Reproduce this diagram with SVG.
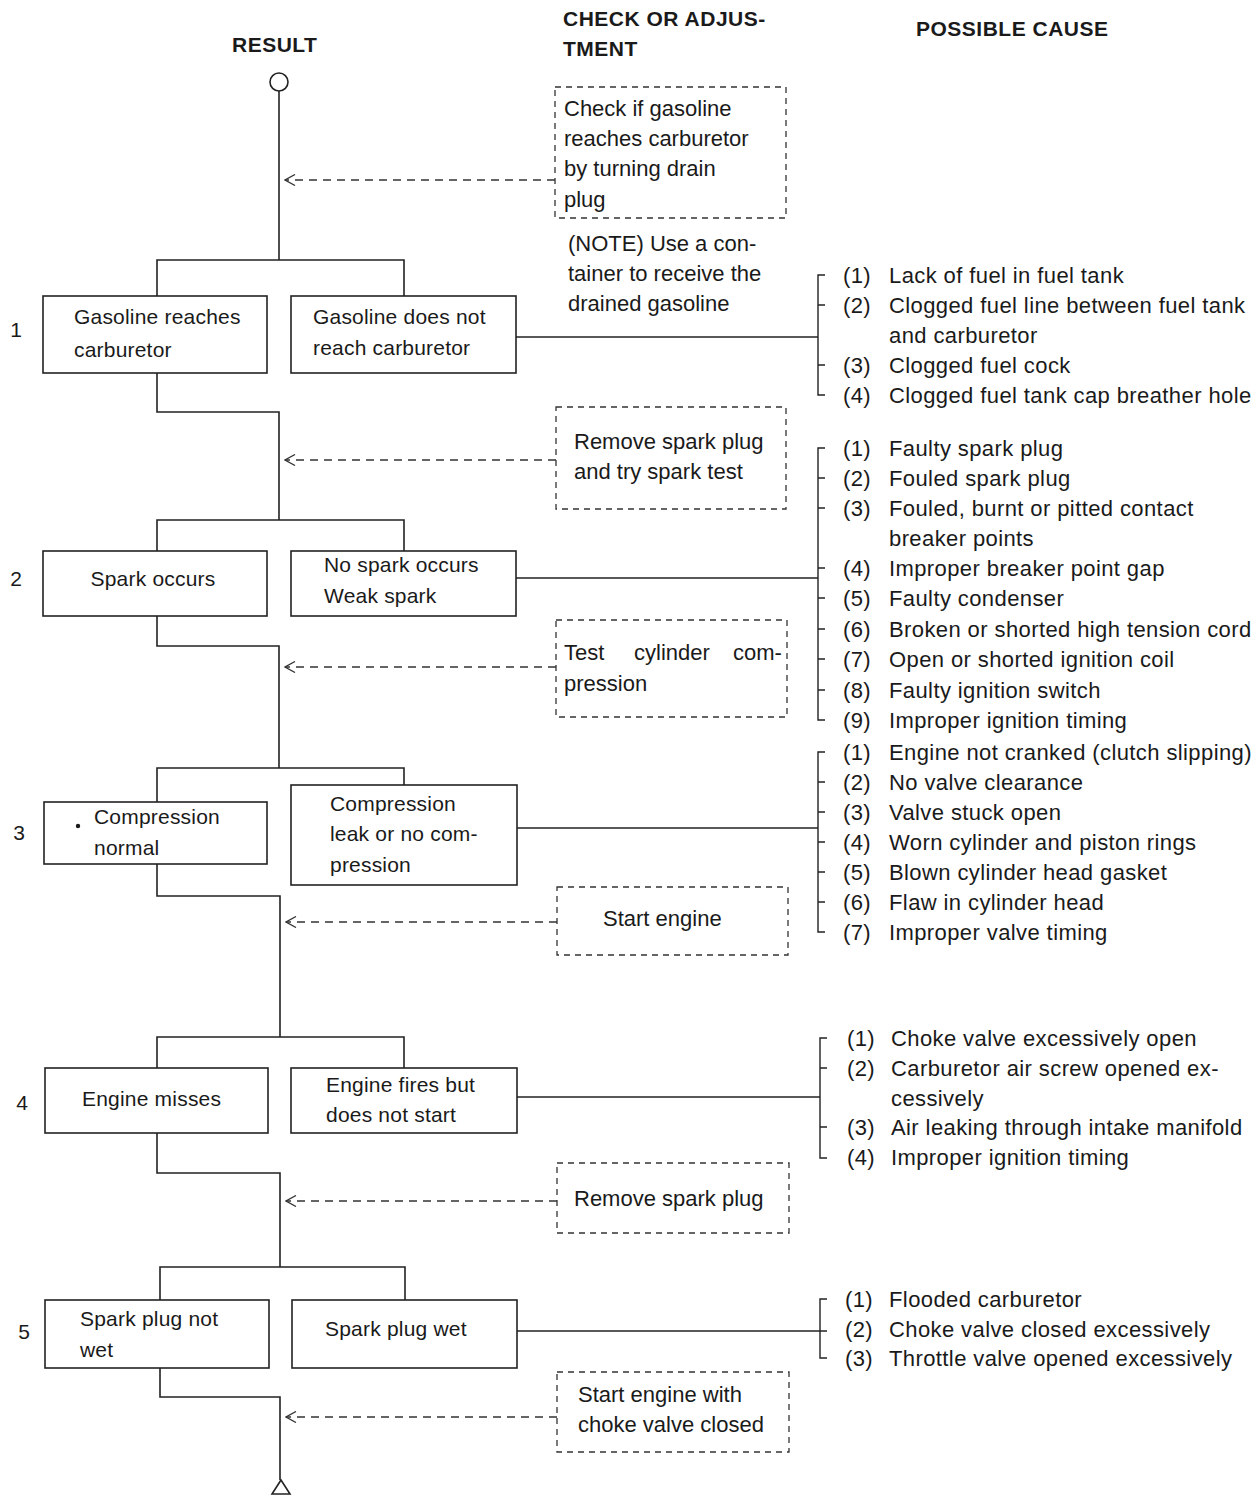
<svg xmlns="http://www.w3.org/2000/svg" width="1260" height="1503" viewBox="0 0 1260 1503">
<defs>
<style>
text{font-family:"Liberation Sans",Arial,sans-serif;fill:#1a1a1a}
.h{font-weight:bold;font-size:21px;letter-spacing:0.5px}
.n{font-size:21px}
.b{font-size:21px;letter-spacing:0.2px}
.c{font-size:22px}
.k{font-size:22px;letter-spacing:0.4px}
.box{fill:#fff;stroke:#222;stroke-width:1.6}
.dbox{fill:none;stroke:#333;stroke-width:1.3;stroke-dasharray:6 5}
.ln{fill:none;stroke:#222;stroke-width:1.6}
.br{fill:none;stroke:#222;stroke-width:1.4}
.da{fill:none;stroke:#333;stroke-width:1.3;stroke-dasharray:8 6;marker-end:url(#ah)}
</style>
<marker id="ah" viewBox="0 0 12 12" refX="11" refY="6" markerWidth="12" markerHeight="12" markerUnits="userSpaceOnUse" orient="auto">
<path d="M1,0.5 L11,6 L1,11.5" fill="none" stroke="#333" stroke-width="1.3"/>
</marker>
</defs>
<rect width="1260" height="1503" fill="#fff"/>

<g id="headers">
<text class="h" x="232" y="52">RESULT</text>
<text class="h" x="563" y="26">CHECK OR ADJUS-</text>
<text class="h" x="563" y="56">TMENT</text>
<text class="h" x="916" y="36">POSSIBLE CAUSE</text>
</g>

<g id="connectors">
<circle cx="279" cy="82" r="9" fill="#fff" stroke="#222" stroke-width="1.6"/>
<path class="ln" d="M279,91 V260"/>
<path class="ln" d="M157,296 V260 H404 V296"/>
<path class="ln" d="M157,373 V412 H279 V520"/>
<path class="ln" d="M157,551 V520 H404 V551"/>
<path class="ln" d="M157,616 V646 H279 V768"/>
<path class="ln" d="M157,802 V768 H404 V785"/>
<path class="ln" d="M157,864 V896 H280 V1037"/>
<path class="ln" d="M157,1068 V1037 H404 V1068"/>
<path class="ln" d="M157,1133 V1173 H280 V1267"/>
<path class="ln" d="M160,1300 V1267 H405 V1300"/>
<path class="ln" d="M160,1368 V1397 H280 V1480"/>
<path d="M281,1480 L272,1494 L290,1494 Z" fill="#fff" stroke="#222" stroke-width="1.6"/>

<path class="da" d="M555,180 H285"/>
<path class="da" d="M556,460 H285"/>
<path class="da" d="M556,667 H285"/>
<path class="da" d="M557,922 H286"/>
<path class="da" d="M557,1201 H286"/>
<path class="da" d="M557,1417 H286"/>

<path class="br" d="M516,337 H818"/>
<path class="br" d="M825,275 H818 V395 H825 M818,305 H825 M818,365 H825"/>
<path class="br" d="M516,578 H818"/>
<path class="br" d="M825,448 H818 V720 H825 M818,478 H825 M818,508 H825 M818,568 H825 M818,598 H825 M818,629 H825 M818,659 H825 M818,690 H825"/>
<path class="br" d="M517,828 H818"/>
<path class="br" d="M825,752 H818 V932 H825 M818,782 H825 M818,812 H825 M818,842 H825 M818,872 H825 M818,902 H825"/>
<path class="br" d="M517,1097 H820"/>
<path class="br" d="M827,1038 H820 V1158 H827 M820,1068 H827 M820,1127 H827"/>
<path class="br" d="M517,1331 H827"/>
<path class="br" d="M827,1299 H820 V1358 H827"/>
</g>

<g id="levels">
<text class="n" x="16" y="337" text-anchor="middle">1</text>
<text class="n" x="16" y="586" text-anchor="middle">2</text>
<text class="n" x="19" y="840" text-anchor="middle">3</text>
<text class="n" x="22" y="1110" text-anchor="middle">4</text>
<text class="n" x="24" y="1339" text-anchor="middle">5</text>
</g>

<g id="n1a"><rect class="box" x="43" y="296" width="224" height="77"/>
<text class="b" x="74" y="324">Gasoline reaches</text><text class="b" x="74" y="357">carburetor</text></g>
<g id="n1b"><rect class="box" x="291" y="296" width="225" height="77"/>
<text class="b" x="313" y="324">Gasoline does not</text><text class="b" x="313" y="355">reach carburetor</text></g>

<g id="n2a"><rect class="box" x="43" y="551" width="224" height="65"/>
<text class="b" x="153" y="586" text-anchor="middle">Spark occurs</text></g>
<g id="n2b"><rect class="box" x="291" y="551" width="225" height="65"/>
<text class="b" x="324" y="572">No spark occurs</text><text class="b" x="324" y="603">Weak spark</text></g>

<g id="n3a"><rect class="box" x="44" y="802" width="223" height="62"/>
<circle cx="78" cy="826" r="2.2" fill="#1a1a1a"/>
<text class="b" x="94" y="824">Compression</text><text class="b" x="94" y="855">normal</text></g>
<g id="n3b"><rect class="box" x="291" y="785" width="226" height="100"/>
<text class="b" x="330" y="811">Compression</text><text class="b" x="330" y="841">leak or no com-</text><text class="b" x="330" y="872">pression</text></g>

<g id="n4a"><rect class="box" x="45" y="1068" width="223" height="65"/>
<text class="b" x="82" y="1106">Engine misses</text></g>
<g id="n4b"><rect class="box" x="291" y="1068" width="226" height="65"/>
<text class="b" x="326" y="1092">Engine fires but</text><text class="b" x="326" y="1122">does not start</text></g>

<g id="n5a"><rect class="box" x="45" y="1300" width="224" height="68"/>
<text class="b" x="80" y="1326">Spark plug not</text><text class="b" x="80" y="1357">wet</text></g>
<g id="n5b"><rect class="box" x="292" y="1300" width="225" height="68"/>
<text class="b" x="325" y="1336">Spark plug wet</text></g>

<g id="check1"><rect class="dbox" x="555" y="87" width="231" height="131"/>
<text class="c" x="564" y="116">Check if gasoline</text>
<text class="c" x="564" y="146">reaches carburetor</text>
<text class="c" x="564" y="176">by turning drain</text>
<text class="c" x="564" y="207">plug</text></g>
<g id="note">
<text class="c" x="568" y="251">(NOTE)  Use a con-</text>
<text class="c" x="568" y="281">tainer to receive the</text>
<text class="c" x="568" y="311">drained gasoline</text></g>
<g id="check2"><rect class="dbox" x="556" y="407" width="230" height="102"/>
<text class="c" x="574" y="449">Remove spark plug</text>
<text class="c" x="574" y="479">and try spark test</text></g>
<g id="check3"><rect class="dbox" x="556" y="620" width="231" height="97"/>
<text class="c" y="660"><tspan x="564">Test</tspan><tspan x="634">cylinder</tspan><tspan x="733">com-</tspan></text>
<text class="c" x="564" y="691">pression</text></g>
<g id="check4"><rect class="dbox" x="557" y="887" width="231" height="68"/>
<text class="c" x="603" y="926">Start engine</text></g>
<g id="check5"><rect class="dbox" x="557" y="1163" width="232" height="70"/>
<text class="c" x="574" y="1206">Remove spark plug</text></g>
<g id="check6"><rect class="dbox" x="557" y="1372" width="232" height="80"/>
<text class="c" x="578" y="1402">Start engine with</text>
<text class="c" x="578" y="1432">choke valve closed</text></g>

<g id="causes1">
<text class="k" x="843" y="283">(1)</text><text class="k" x="889" y="283">Lack of fuel in fuel tank</text>
<text class="k" x="843" y="313">(2)</text><text class="k" x="889" y="313">Clogged fuel line between fuel tank</text>
<text class="k" x="889" y="343">and carburetor</text>
<text class="k" x="843" y="373">(3)</text><text class="k" x="889" y="373">Clogged fuel cock</text>
<text class="k" x="843" y="403">(4)</text><text class="k" x="889" y="403">Clogged fuel tank cap breather hole</text>
</g>
<g id="causes2">
<text class="k" x="843" y="456">(1)</text><text class="k" x="889" y="456">Faulty spark plug</text>
<text class="k" x="843" y="486">(2)</text><text class="k" x="889" y="486">Fouled spark plug</text>
<text class="k" x="843" y="516">(3)</text><text class="k" x="889" y="516">Fouled, burnt or pitted contact</text>
<text class="k" x="889" y="546">breaker points</text>
<text class="k" x="843" y="576">(4)</text><text class="k" x="889" y="576">Improper breaker point gap</text>
<text class="k" x="843" y="606">(5)</text><text class="k" x="889" y="606">Faulty condenser</text>
<text class="k" x="843" y="637">(6)</text><text class="k" x="889" y="637">Broken or shorted high tension cord</text>
<text class="k" x="843" y="667">(7)</text><text class="k" x="889" y="667">Open or shorted ignition coil</text>
<text class="k" x="843" y="698">(8)</text><text class="k" x="889" y="698">Faulty ignition switch</text>
<text class="k" x="843" y="728">(9)</text><text class="k" x="889" y="728">Improper ignition timing</text>
</g>
<g id="causes3">
<text class="k" x="843" y="760">(1)</text><text class="k" x="889" y="760">Engine not cranked (clutch slipping)</text>
<text class="k" x="843" y="790">(2)</text><text class="k" x="889" y="790">No valve clearance</text>
<text class="k" x="843" y="820">(3)</text><text class="k" x="889" y="820">Valve stuck open</text>
<text class="k" x="843" y="850">(4)</text><text class="k" x="889" y="850">Worn cylinder and piston rings</text>
<text class="k" x="843" y="880">(5)</text><text class="k" x="889" y="880">Blown cylinder head gasket</text>
<text class="k" x="843" y="910">(6)</text><text class="k" x="889" y="910">Flaw in cylinder head</text>
<text class="k" x="843" y="940">(7)</text><text class="k" x="889" y="940">Improper valve timing</text>
</g>
<g id="causes4">
<text class="k" x="847" y="1046">(1)</text><text class="k" x="891" y="1046">Choke valve excessively open</text>
<text class="k" x="847" y="1076">(2)</text><text class="k" x="891" y="1076">Carburetor air screw opened ex-</text>
<text class="k" x="891" y="1106">cessively</text>
<text class="k" x="847" y="1135">(3)</text><text class="k" x="891" y="1135">Air leaking through intake manifold</text>
<text class="k" x="847" y="1165">(4)</text><text class="k" x="891" y="1165">Improper ignition timing</text>
</g>
<g id="causes5">
<text class="k" x="845" y="1307">(1)</text><text class="k" x="889" y="1307">Flooded carburetor</text>
<text class="k" x="845" y="1337">(2)</text><text class="k" x="889" y="1337">Choke valve closed excessively</text>
<text class="k" x="845" y="1366">(3)</text><text class="k" x="889" y="1366">Throttle valve opened excessively</text>
</g>
</svg>
